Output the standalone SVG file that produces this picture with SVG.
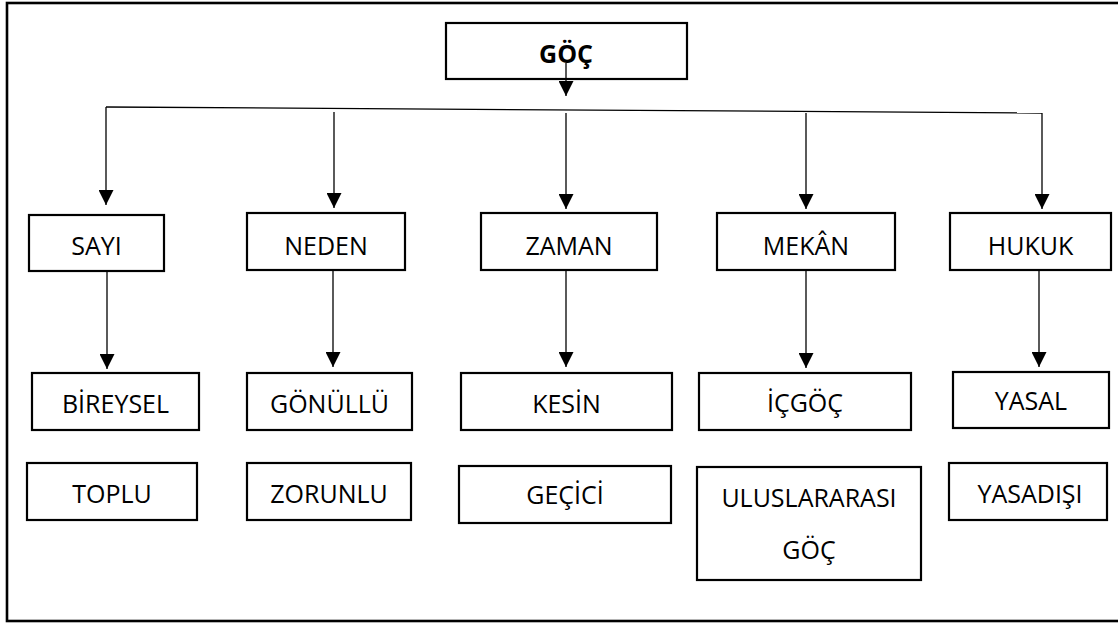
<svg xmlns="http://www.w3.org/2000/svg" width="1118" height="623" viewBox="0 0 1118 623">
  <style>
    .box { fill: #ffffff; stroke: #000000; stroke-width: 2.2; }
    .frame { fill: none; stroke: #000000; stroke-width: 2.6; }
    .lbl { font-family: "Open Sans", "Liberation Sans", sans-serif; font-size: 25px; fill: #000000; text-anchor: middle; }
    .bold { font-weight: bold; }
    .conn { fill: none; stroke: #000000; stroke-width: 1.3; }
  </style>
  <defs>
    <marker id="arrow" viewBox="0 0 15 15" refX="15" refY="7.5" markerWidth="15" markerHeight="15" markerUnits="userSpaceOnUse" orient="auto">
      <path d="M0,0 L15,7.5 L0,15 Z" fill="#000000"/>
    </marker>
  </defs>

  <rect class="frame" x="7" y="3" width="1120" height="618"/>

  <g id="node-goc">
    <rect class="box" x="446" y="23" width="241" height="56"/>
    <text class="lbl bold" x="566" y="63">GÖÇ</text>
  </g>

  <g id="node-sayi">
    <rect class="box" x="29" y="215" width="135" height="56"/>
    <text class="lbl" x="96.5" y="255">SAYI</text>
  </g>
  <g id="node-neden">
    <rect class="box" x="247" y="213" width="158" height="57"/>
    <text class="lbl" x="326" y="255">NEDEN</text>
  </g>
  <g id="node-zaman">
    <rect class="box" x="481" y="213" width="176" height="57"/>
    <text class="lbl" x="569" y="255">ZAMAN</text>
  </g>
  <g id="node-mekan">
    <rect class="box" x="717" y="213" width="178" height="57"/>
    <text class="lbl" x="806" y="255">MEKÂN</text>
  </g>
  <g id="node-hukuk">
    <rect class="box" x="950" y="213" width="161" height="57"/>
    <text class="lbl" x="1030.5" y="255">HUKUK</text>
  </g>

  <g id="node-bireysel">
    <rect class="box" x="32" y="373" width="167" height="57"/>
    <text class="lbl" x="115.5" y="413">BİREYSEL</text>
  </g>
  <g id="node-gonullu">
    <rect class="box" x="247" y="373" width="165" height="57"/>
    <text class="lbl" x="329.5" y="413">GÖNÜLLÜ</text>
  </g>
  <g id="node-kesin">
    <rect class="box" x="461" y="373" width="211" height="57"/>
    <text class="lbl" x="566.5" y="413">KESİN</text>
  </g>
  <g id="node-icgoc">
    <rect class="box" x="699" y="373" width="212" height="57"/>
    <text class="lbl" x="805" y="412">İÇGÖÇ</text>
  </g>
  <g id="node-yasal">
    <rect class="box" x="953" y="372" width="156" height="56"/>
    <text class="lbl" x="1031" y="410">YASAL</text>
  </g>

  <g id="node-toplu">
    <rect class="box" x="27" y="463" width="170" height="57"/>
    <text class="lbl" x="112" y="503">TOPLU</text>
  </g>
  <g id="node-zorunlu">
    <rect class="box" x="247" y="463" width="164" height="57"/>
    <text class="lbl" x="329" y="503">ZORUNLU</text>
  </g>
  <g id="node-gecici">
    <rect class="box" x="459" y="466" width="212" height="57"/>
    <text class="lbl" x="565" y="504">GEÇİCİ</text>
  </g>
  <g id="node-uluslararasi">
    <rect class="box" x="697" y="467" width="224" height="113"/>
    <text class="lbl" x="809" y="507">ULUSLARARASI</text>
    <text class="lbl" x="809" y="559">GÖÇ</text>
  </g>
  <g id="node-yasadisi">
    <rect class="box" x="949" y="463" width="158" height="57"/>
    <text class="lbl" x="1030" y="503">YASADIŞI</text>
  </g>

  <g id="connectors">
    <path class="conn" d="M566,63 V96" marker-end="url(#arrow)"/>
    <path class="conn" d="M106,107 L1042,113"/>
    <path class="conn" d="M106,107 V205" marker-end="url(#arrow)"/>
    <path class="conn" d="M334,112 V208" marker-end="url(#arrow)"/>
    <path class="conn" d="M566,113 V209" marker-end="url(#arrow)"/>
    <path class="conn" d="M806,113 V209" marker-end="url(#arrow)"/>
    <path class="conn" d="M1042,113 V209" marker-end="url(#arrow)"/>

    <path class="conn" d="M107,271 V369" marker-end="url(#arrow)"/>
    <path class="conn" d="M333,270 V367" marker-end="url(#arrow)"/>
    <path class="conn" d="M566,270 V367" marker-end="url(#arrow)"/>
    <path class="conn" d="M806,270 V368" marker-end="url(#arrow)"/>
    <path class="conn" d="M1039,270 V367" marker-end="url(#arrow)"/>
  </g>
</svg>
